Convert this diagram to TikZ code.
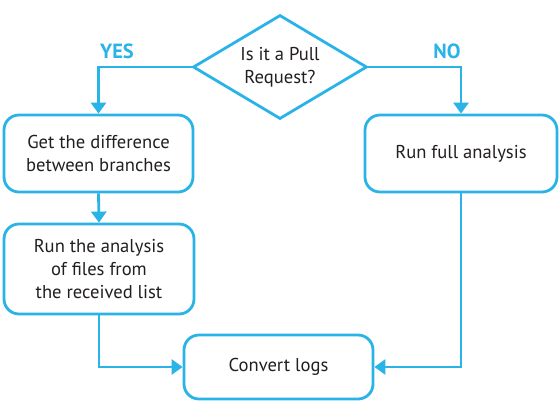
\documentclass[tikz,border=0pt]{standalone}
\usepackage{fontspec}
\setmainfont{PT Sans}
\usetikzlibrary{arrows.meta,shapes.geometric}
\definecolor{flowblue}{HTML}{29B3E6}
\definecolor{txt}{HTML}{231F20}
\begin{document}
\begin{tikzpicture}[x=1pt,y=-1pt,
  box/.style={draw=flowblue,line width=2.8pt,rounded corners=15pt,fill=white,
    text=txt,align=center,font=\fontsize{18.6}{23}\selectfont,inner sep=0pt},
  link/.style={draw=flowblue,line width=2.8pt,-{Triangle[width=15pt,length=11pt]}},
  lbl/.style={text=flowblue,font=\fontsize{20.5}{22}\selectfont\bfseries}]
\useasboundingbox (0,0) rectangle (559,413);
\node[draw=flowblue,line width=2.8pt,diamond,aspect=1.67,minimum width=174pt,minimum height=104pt,
  inner sep=0pt,text=txt,align=center,font=\fontsize{18.6}{23}\selectfont] (q) at (280,67) {Is it a Pull\\Request?};
\node[box,minimum width=189pt,minimum height=77pt] (diff) at (98.5,153.5) {Get the difference\\between branches};
\node[box,minimum width=192pt,minimum height=77pt] (full) at (461,153.5) {Run full analysis};
\node[box,minimum width=190pt,minimum height=90pt] (run) at (99,269) {Run the analysis\\of files from\\the received list};
\node[box,minimum width=189pt,minimum height=64pt] (conv) at (278.5,367) {Convert logs};
\draw[link] (q.west) -| (diff.north);
\draw[link] (q.east) -| (full.north);
\draw[link] (diff.south) -- (run.north);
\draw[link] (run.south) |- (conv.west);
\draw[link] (full.south) |- (conv.east);
\node[lbl] (yes) at (117,51) {YES};
\node[lbl] (no) at (447,51) {NO};
\end{tikzpicture}
\end{document}
